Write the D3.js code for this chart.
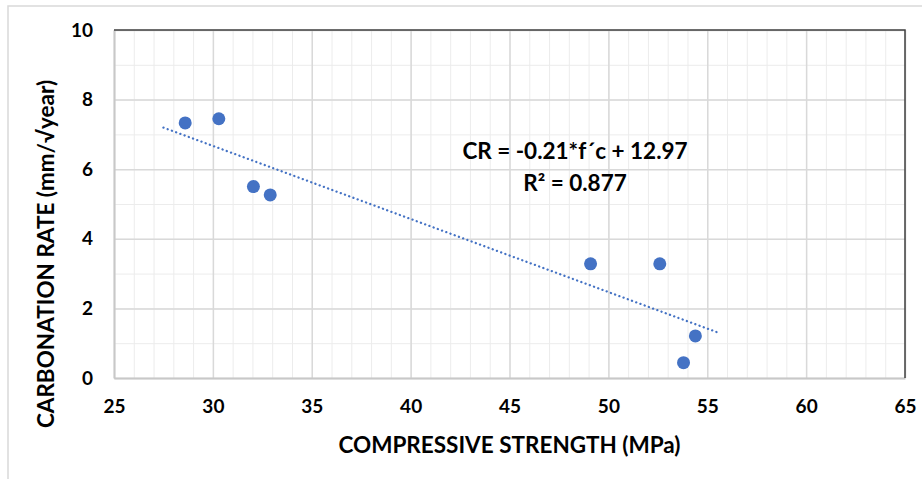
<!DOCTYPE html>
<html>
<head>
<meta charset="utf-8">
<script src="https://cdn.jsdelivr.net/npm/d3@7"></script>
<style>
  body { margin: 0; background: #fff; }
  text { font-family: Lato, "Open Sans", sans-serif; font-weight: bold; fill: #000; }
</style>
</head>
<body>
<svg></svg>
<script>
var width = 922;
var height = 479;

// data
var strength = [28.6, 30.3, 32.05, 32.9, 49.1, 52.6, 54.4, 53.8];
var carbRate = [7.33, 7.45, 5.5, 5.26, 3.28, 3.28, 1.21, 0.44];
var trendX = [27.5, 55.6];
var slope = -0.21;
var intercept = 12.97;
var xTicks = [25, 30, 35, 40, 45, 50, 55, 60, 65];
var yTicks = [0, 2, 4, 6, 8, 10];
var eqLines = ["CR = -0.21*f\u00b4c + 12.97", "R\u00b2 = 0.877"];

var plotLeft = 114, plotRight = 905, plotTop = 30, plotBottom = 378;

var xScale = d3.scaleLinear().domain([25, 65]).range([plotLeft, plotRight]);
var yScale = d3.scaleLinear().domain([0, 10]).range([plotBottom, plotTop]);

var svg = d3.select("svg")
    .attr("width", width)
    .attr("height", height);

// outer chart frame
svg.append("rect")
    .attr("x", 8).attr("y", 6)
    .attr("width", width + 10).attr("height", height + 10)
    .attr("fill", "none")
    .attr("stroke", "#d9d9d9")
    .attr("stroke-width", 1.5);

// minor grid
svg.append("g")
    .attr("transform", "translate(0," + plotBottom + ")")
    .call(d3.axisBottom(xScale).tickValues(d3.range(25, 66, 1)).tickSize(-(plotBottom - plotTop)).tickFormat(""))
    .call(g => g.select(".domain").remove())
    .selectAll("line").attr("stroke", "#ececec").attr("stroke-width", 1);
svg.append("g")
    .attr("transform", "translate(" + plotLeft + ",0)")
    .call(d3.axisLeft(yScale).tickValues(d3.range(0, 11, 1)).tickSize(-(plotRight - plotLeft)).tickFormat(""))
    .call(g => g.select(".domain").remove())
    .selectAll("line").attr("stroke", "#ececec").attr("stroke-width", 1);

// major grid
svg.append("g")
    .attr("transform", "translate(0," + plotBottom + ")")
    .call(d3.axisBottom(xScale).tickValues(xTicks).tickSize(-(plotBottom - plotTop)).tickFormat(""))
    .call(g => g.select(".domain").remove())
    .selectAll("line").attr("stroke", "#d9d9d9").attr("stroke-width", 1.5);
svg.append("g")
    .attr("transform", "translate(" + plotLeft + ",0)")
    .call(d3.axisLeft(yScale).tickValues(yTicks).tickSize(-(plotRight - plotLeft)).tickFormat(""))
    .call(g => g.select(".domain").remove())
    .selectAll("line").attr("stroke", "#d9d9d9").attr("stroke-width", 1.5);

// axes
var xAxis = svg.append("g")
    .attr("transform", "translate(0," + plotBottom + ")")
    .call(d3.axisBottom(xScale).tickValues(xTicks).tickSize(0).tickPadding(22).tickSizeOuter(0));
var yAxis = svg.append("g")
    .attr("transform", "translate(" + plotLeft + ",0)")
    .call(d3.axisLeft(yScale).tickValues(yTicks).tickSize(0).tickPadding(21).tickSizeOuter(0));
[xAxis, yAxis].forEach(function (g) {
    g.select(".domain").attr("stroke", "#c8c8c8").attr("stroke-width", 2);
    g.selectAll("text").style("font-size", "19px").attr("fill", "#000");
});

// dark top and right border of the plot
svg.append("path")
    .attr("d", "M" + plotLeft + "," + plotTop + "H" + plotRight + "V" + plotBottom)
    .attr("fill", "none")
    .attr("stroke", "#404040")
    .attr("stroke-width", 1.5);

// trendline
svg.append("line")
    .attr("x1", xScale(trendX[0]))
    .attr("y1", yScale(slope * trendX[0] + intercept))
    .attr("x2", xScale(trendX[1]))
    .attr("y2", yScale(slope * trendX[1] + intercept))
    .attr("stroke", "#4472c4")
    .attr("stroke-width", 2.3)
    .attr("stroke-linecap", "round")
    .attr("stroke-dasharray", "0.1 4.4");

// points
svg.selectAll("circle")
    .data(strength)
    .enter()
    .append("circle")
        .attr("cx", d => xScale(d))
        .attr("cy", (d, i) => yScale(carbRate[i]))
        .attr("r", 6.5)
        .attr("fill", "#4472c4");

// equation label
svg.selectAll(".eq")
    .data(eqLines)
    .enter()
    .append("text")
        .attr("class", "eq")
        .attr("x", 575)
        .attr("y", (d, i) => 159 + i * 32)
        .style("text-anchor", "middle")
        .style("font-size", "22.5px")
        .text(d => d);

// axis titles
svg.append("text")
    .attr("x", (plotLeft + plotRight) / 2)
    .attr("y", 453)
    .style("text-anchor", "middle")
    .style("font-size", "22.5px")
    .text("COMPRESSIVE STRENGTH (MPa)");

svg.append("text")
    .attr("transform", "rotate(-90)")
    .attr("x", -254)
    .attr("y", 54)
    .style("text-anchor", "middle")
    .style("font-size", "22.5px")
    .text("CARBONATION RATE (mm/\u221ayear)");
</script>
</body>
</html>
